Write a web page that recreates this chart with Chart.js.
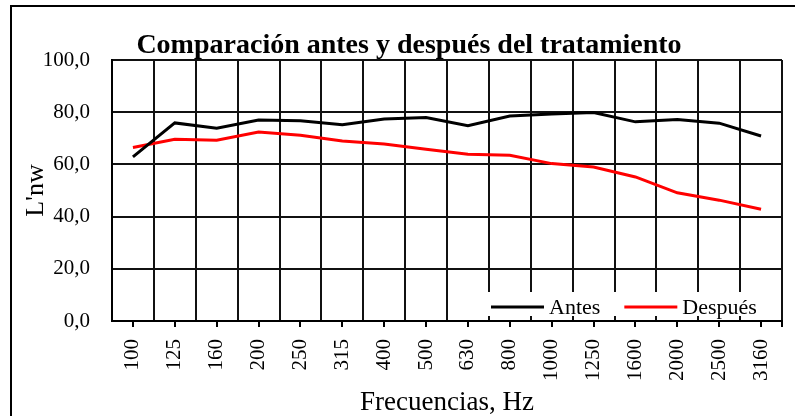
<!DOCTYPE html>
<html>
<head>
<meta charset="utf-8">
<script src="https://cdn.jsdelivr.net/npm/chart.js@4.4.1/dist/chart.umd.min.js"></script>
<style>
  html, body { margin: 0; padding: 0; background: #fff; overflow: hidden; }
  #frame { position: absolute; left: 10px; top: 5px; width: 820px; height: 430px; border: 2px solid #000; }
  #chart { position: absolute; left: 0; top: 0; }
</style>
</head>
<body>
<div id="frame"></div>
<canvas id="chart" width="795" height="416"></canvas>
<script>
// ---------- data ----------
const frecuencias = ['100', '125', '160', '200', '250', '315', '400', '500', '630',
                     '800', '1000', '1250', '1600', '2000', '2500', '3160'];
const antes   = [62.9, 75.9, 73.9, 77.0, 76.7, 75.2, 77.4, 78.0, 74.8,
                 78.5, 79.3, 79.9, 76.3, 77.2, 75.8, 70.9];
const despues = [66.5, 69.6, 69.3, 72.4, 71.2, 69.0, 67.8, 65.8, 63.9,
                 63.5, 60.3, 59.0, 55.2, 49.1, 46.3, 42.8];
const seriesNames = ['Antes', 'Después'];
const seriesColors = ['#000000', '#ff0000'];
const yTicks = [0, 20, 40, 60, 80, 100];

const FONT = "'Liberation Serif', 'Times New Roman', serif";

// small tick marks under each category centre (grid lines sit between categories)
const centreTicks = {
    id: 'centreTicks',
    afterDraw(chart) {
        const xs = chart.scales.x;
        const ctx = chart.ctx;
        const y0 = chart.chartArea.bottom;
        ctx.save();
        ctx.strokeStyle = '#000';
        ctx.lineWidth = 2;
        ctx.beginPath();
        frecuencias.forEach((f, i) => {
            const x = Math.round(xs.getPixelForValue(i));
            ctx.moveTo(x, y0);
            ctx.lineTo(x, y0 + 6);
        });
        ctx.moveTo(xs.right, y0);
        ctx.lineTo(xs.right, y0 + 6);
        ctx.stroke();
        ctx.restore();
    }
};

// legend drawn inside the plot, bottom right, on a white box
const innerLegend = {
    id: 'innerLegend',
    afterDatasetsDraw(chart) {
        const ctx = chart.ctx;
        const area = chart.chartArea;
        ctx.save();
        ctx.fillStyle = '#fff';
        ctx.fillRect(area.right - 294, area.bottom - 29, 292, 24);
        ctx.font = '22px ' + FONT;
        ctx.textBaseline = 'middle';
        ctx.fillStyle = '#000';
        let x = area.right - 291;
        const y = area.bottom - 14;
        chart.data.datasets.forEach(ds => {
            ctx.strokeStyle = ds.borderColor;
            ctx.lineWidth = 3;
            ctx.beginPath();
            ctx.moveTo(x, y);
            ctx.lineTo(x + 53, y);
            ctx.stroke();
            ctx.fillText(ds.label, x + 58, y + 1);
            x += 58 + ctx.measureText(ds.label).width + 24;
        });
        ctx.restore();
    }
};

new Chart(document.getElementById('chart').getContext('2d'), {
    type: 'line',
    data: {
        labels: frecuencias,
        datasets: [{
            label: seriesNames[0],
            data: antes,
            borderColor: seriesColors[0],
            borderWidth: 3,
            pointRadius: 0,
            tension: 0,
            fill: false
        }, {
            label: seriesNames[1],
            data: despues,
            borderColor: seriesColors[1],
            borderWidth: 3,
            pointRadius: 0,
            tension: 0,
            fill: false
        }]
    },
    options: {
        responsive: false,
        animation: false,
        devicePixelRatio: 1,
        layout: { padding: { left: 36, right: 13, top: 0, bottom: 0 } },
        plugins: {
            legend: { display: false },
            tooltip: { enabled: false },
            title: {
                display: true,
                text: 'Comparación antes y después del tratamiento',
                color: '#000',
                font: { family: FONT, size: 28, weight: 'bold', lineHeight: 1 },
                padding: { top: 32, bottom: 0 }
            }
        },
        scales: {
            x: {
                offset: true,
                grid: { offset: true, color: '#111', lineWidth: 2, drawTicks: false },
                border: { color: '#000', width: 2 },
                ticks: {
                    color: '#000',
                    font: { family: FONT, size: 21 },
                    minRotation: 90,
                    maxRotation: 90,
                    autoSkip: false,
                    padding: 18
                },
                title: {
                    display: true,
                    text: 'Frecuencias, Hz',
                    color: '#000',
                    font: { family: FONT, size: 27, lineHeight: 1 },
                    padding: 0
                },
                afterFit(scale) {
                    scale.height = 95;
                    scale.paddingLeft = 0;
                    scale.paddingRight = 0;
                }
            },
            y: {
                min: 0,
                max: 100,
                afterBuildTicks(scale) { scale.ticks = yTicks.map(v => ({ value: v })); },
                grid: { color: '#111', lineWidth: 2, drawTicks: false },
                border: { color: '#000', width: 2 },
                ticks: {
                    color: '#000',
                    font: { family: FONT, size: 21 },
                    padding: 22,
                    callback: v => v.toFixed(1).replace('.', ',')
                },
                title: {
                    display: true,
                    text: "L'nw",
                    color: '#000',
                    font: { family: FONT, size: 26, lineHeight: 1 },
                    padding: { top: -13, bottom: 0 }
                },
                afterFit(scale) { scale.width = 76; }
            }
        }
    },
    plugins: [centreTicks, innerLegend]
});
</script>
</body>
</html>
